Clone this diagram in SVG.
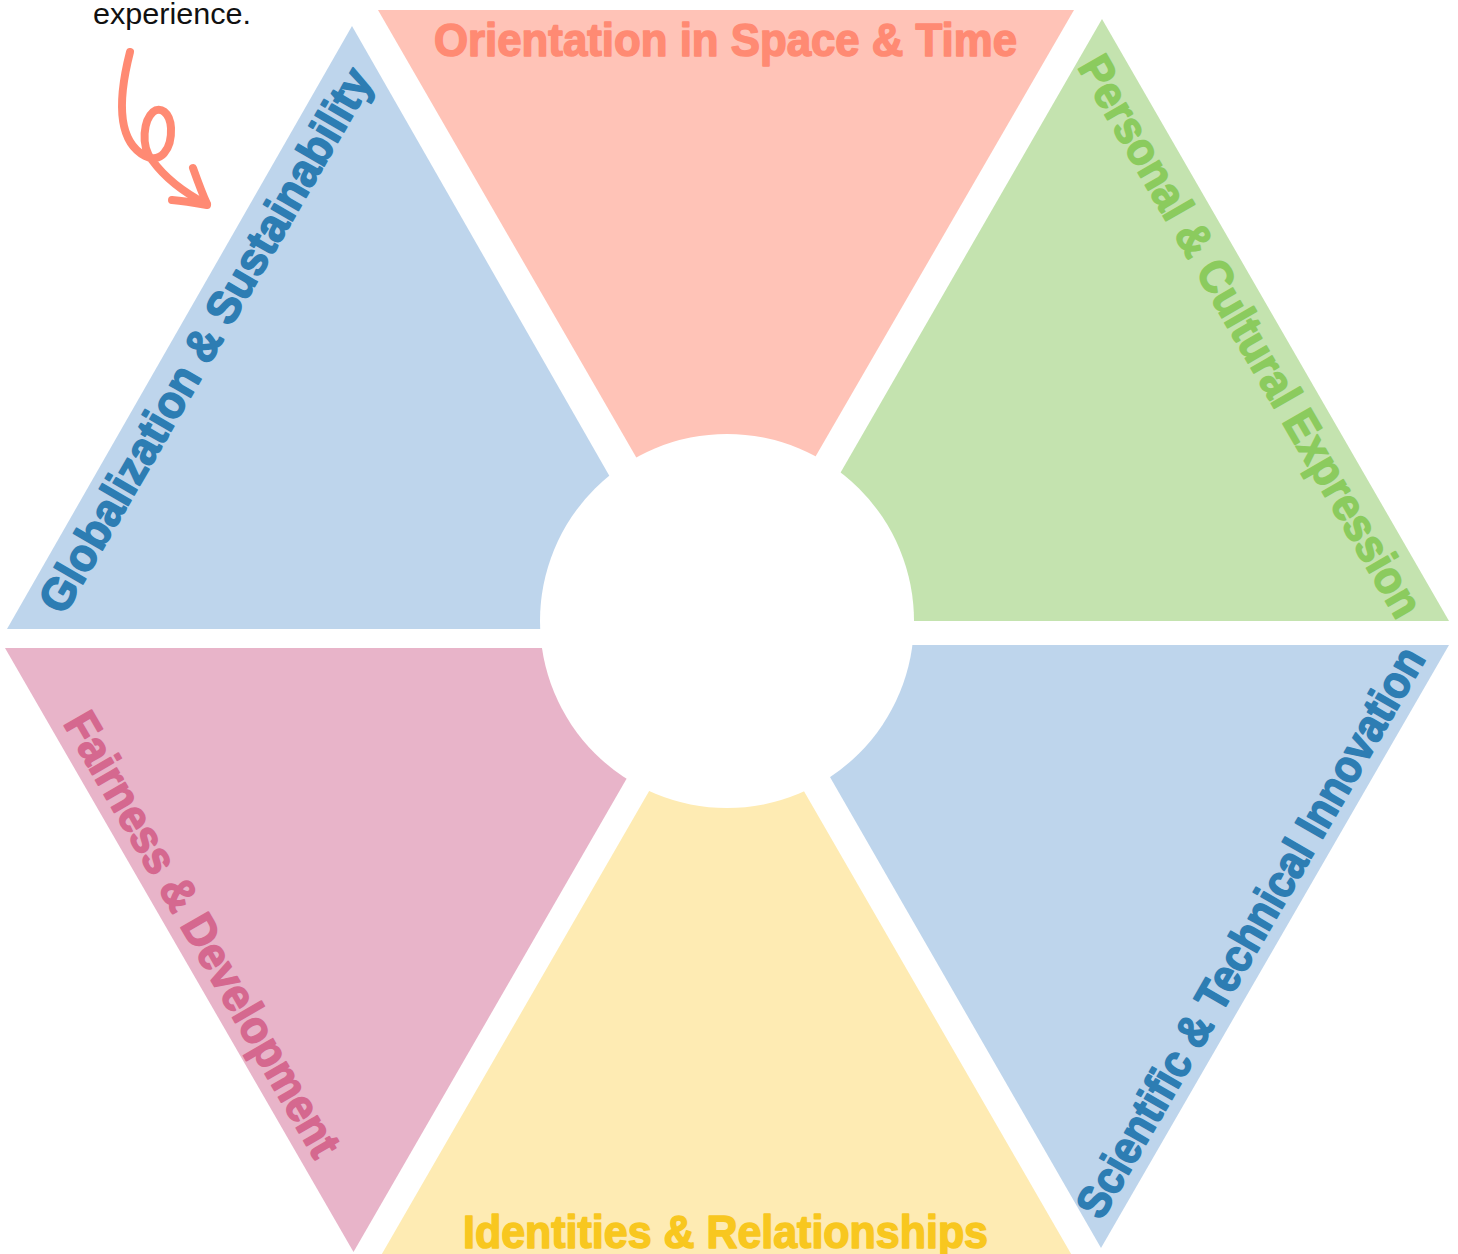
<svg xmlns="http://www.w3.org/2000/svg" width="1458" height="1254" viewBox="0 0 1458 1254">
  <style>
    .lbl { font-family: "Liberation Sans", Arial, sans-serif; font-weight: bold; font-size: 46px; stroke-width: 1.6; stroke-linejoin: round; }
    .note { font-family: "Liberation Sans", Arial, sans-serif; font-size: 29px; fill: #111111; }
    .arrow { fill: none; stroke: #FF8A73; stroke-width: 8; stroke-linecap: round; stroke-linejoin: round; }
  </style>
  <rect width="1458" height="1254" fill="#FFFFFF"/>

  <g id="orientation">
    <polygon points="378,10 1074,10 725.5,612" fill="#FFC3B7"/>
    <text class="lbl" x="725.5" y="56" text-anchor="middle" textLength="583" lengthAdjust="spacingAndGlyphs" fill="#FF8A73" stroke="#FF8A73">Orientation in Space &amp; Time</text>
  </g>

  <g id="globalization">
    <polygon points="352,26 7,629 697,629" fill="#BED5EC"/>
    <text class="lbl" transform="translate(219,348) rotate(-60)" x="0" y="0" text-anchor="middle" textLength="620" lengthAdjust="spacingAndGlyphs" fill="#2D7DB3" stroke="#2D7DB3">Globalization &amp; Sustainability</text>
  </g>

  <g id="personal">
    <polygon points="1102,19 1449,621 755,621" fill="#C4E3AF"/>
    <text class="lbl" transform="translate(1237,344) rotate(60)" x="0" y="0" text-anchor="middle" textLength="640" lengthAdjust="spacingAndGlyphs" fill="#8BCB5E" stroke="#8BCB5E">Personal &amp; Cultural Expression</text>
  </g>

  <g id="scientific">
    <polygon points="754,645 1449,645 1101,1248" fill="#BED5EC"/>
    <text class="lbl" transform="translate(1264,940) rotate(-60)" x="0" y="0" text-anchor="middle" textLength="650" lengthAdjust="spacingAndGlyphs" fill="#2D7DB3" stroke="#2D7DB3">Scientific &amp; Technical Innovation</text>
  </g>

  <g id="identities">
    <polygon points="726.5,657 1074,1259 379,1259" fill="#FEEBB3"/>
    <text class="lbl" x="725.5" y="1248" text-anchor="middle" textLength="525" lengthAdjust="spacingAndGlyphs" fill="#F8C71F" stroke="#F8C71F">Identities &amp; Relationships</text>
  </g>

  <g id="fairness">
    <polygon points="5,648 702,648 353.5,1252" fill="#E8B4C9"/>
    <text class="lbl" transform="translate(189,942) rotate(60)" x="0" y="0" text-anchor="middle" textLength="505" lengthAdjust="spacingAndGlyphs" fill="#D5688F" stroke="#D5688F">Fairness &amp; Development</text>
  </g>

  <g id="center">
    <circle cx="727" cy="621" r="187" fill="#FFFFFF"/>
  </g>

  <g id="note">
    <text class="note" x="93" y="24" textLength="158" lengthAdjust="spacingAndGlyphs">experience.</text>
  </g>

  <g id="connectors">
    <path class="arrow" d="M130,52 C119,95 115,140 145,156 C160,164 172,150 171,128 C170,112 160,106 153,112 C144,120 140,145 152,160 C165,178 185,193 206,204"/>
    <path class="arrow" stroke-width="7" d="M193,168 C198,182 202,193 207,204"/>
    <path class="arrow" stroke-width="7" d="M172,200 C185,201 196,203 207,205"/>
  </g>
</svg>
